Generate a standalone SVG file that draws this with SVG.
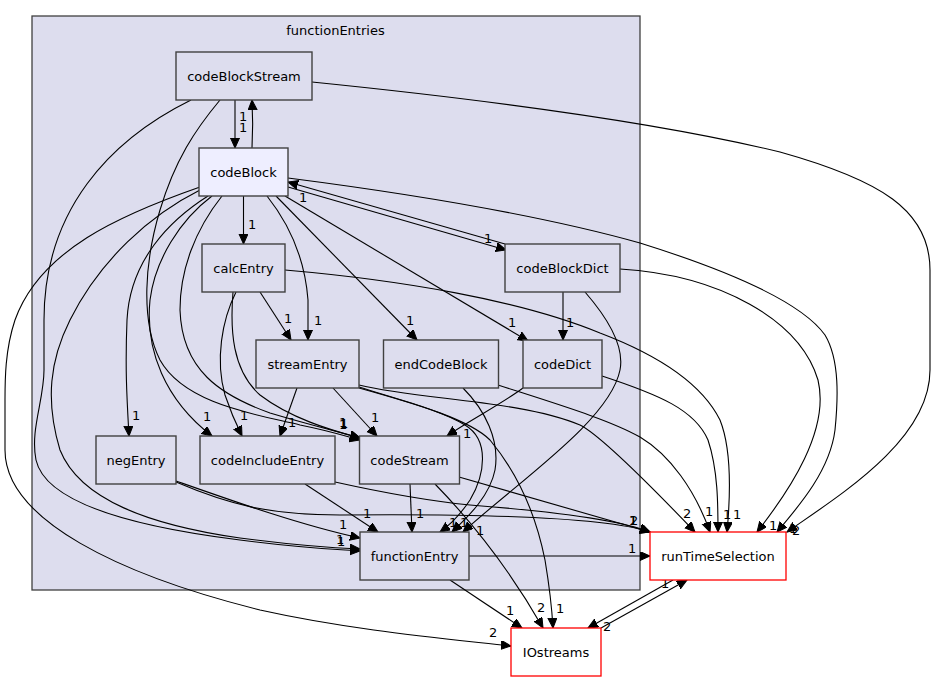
<svg xmlns="http://www.w3.org/2000/svg" width="936" height="681" viewBox="0 0 936 681">
<defs>
<style>
text{font-family:"DejaVu Sans","Liberation Sans",sans-serif;font-size:13px;fill:#000}
.n text{text-anchor:middle}
.in rect{fill:#ddddee;stroke:#404040;stroke-width:1.4}
.cur rect{fill:#eeeeff;stroke:#404040;stroke-width:1.4}
.ext rect{fill:#ffffff;stroke:#ff0000;stroke-width:1.3}
#edges path{fill:none;stroke:#000;stroke-width:1.1;marker-end:url(#ah)}
#edges text{font-size:13px}
</style>
<marker id="ah" markerWidth="12" markerHeight="10" refX="10" refY="4.5" orient="auto" markerUnits="userSpaceOnUse"><path d="M0,0 L10,4.5 L0,9 z" fill="#000" stroke="#000" stroke-width="1"/></marker>
</defs>
<rect width="936" height="681" fill="#ffffff"/>
<g id="cluster">
<rect x="32" y="16" width="608" height="574" fill="#ddddee" stroke="#404040" stroke-width="1.3"/>
<text x="335.5" y="35" text-anchor="middle">functionEntries</text>
</g>
<g id="edges">
<path d="M235,100 L235,148"/><text x="239" y="132">1</text>
<path d="M252,148 C253,130 253,118 252,100"/><text x="239" y="121">1</text>
<path d="M312,82 C450,96 640,118 780,152 C880,180 930,210 930,270 L930,370 C930,440 840,495 787,532"/><text x="792" y="535">2</text>
<path d="M191,100 C110,140 44,210 44,320 L44,370 C44,400 30,430 36,460 C45,500 120,525 240,540 C300,548 330,549 360,551"/>
<path d="M220,100 C195,130 175,160 160,210 C145,260 140,320 160,360 C185,405 260,415 300,425 C330,431 345,436 360,440"/>
<path d="M200,187 C120,215 40,250 15,320 C5,350 5,380 5,400 L5,450 C5,520 120,575 260,610 C350,630 440,638 511,646"/><text x="489" y="637">2</text>
<path d="M200,190 C150,215 100,260 70,320 C50,360 45,400 60,450 C80,500 150,525 240,538 C300,546 335,548 360,549"/><text x="336" y="544">1</text><text x="337" y="546">1</text>
<path d="M208,196 C170,220 130,260 127,320 C125,370 127,400 129,436"/><text x="132" y="420">1</text>
<path d="M212,196 C180,220 155,260 150,300 C145,350 165,400 212,436"/><text x="203" y="421">1</text>
<path d="M222,196 C195,230 180,270 180,310 C182,370 220,395 270,413 C310,425 340,432 360,438"/>
<path d="M243.5,196 L243.5,244"/><text x="248" y="229">1</text>
<path d="M267,196 C290,225 305,260 308,300 L308,340"/><text x="314" y="325">1</text>
<path d="M276,196 L417,340"/><text x="406" y="325">1</text>
<path d="M285,196 L528,341"/><text x="508" y="327">1</text>
<path d="M288,187 L506,250"/><text x="484" y="243">1</text>
<path d="M505,244 L288,182"/><text x="299" y="202">1</text>
<path d="M288,178 C420,195 540,215 640,243 C720,268 800,300 825,335 C840,360 838,400 835,430 C830,470 800,505 777,532"/><text x="789" y="533">1</text>
<path d="M260,292 L291,340"/><text x="284" y="323">1</text>
<path d="M236,292 C222,320 215,360 225,395 C230,410 235,422 242,436"/><text x="240" y="420">1</text>
<path d="M233,292 C230,330 232,370 260,395 C290,418 330,430 360,438"/><text x="339" y="427">1</text><text x="340" y="428">1</text><text x="339" y="429">1</text>
<path d="M285,270 C400,280 520,300 600,333 C650,352 700,380 720,420 C732,450 730,500 727,532"/><text x="733" y="519">1</text>
<path d="M297,388 L280,436"/><text x="288" y="427">1</text>
<path d="M333,388 L377,436"/><text x="371" y="422">1</text>
<path d="M359,385 C420,400 520,400 580,425 C600,435 650,485 695,532"/><text x="683" y="518">2</text>
<path d="M359,387 C400,400 440,410 465,425 C490,440 485,475 470,500 C460,515 450,525 440,532"/><text x="449" y="527">1</text>
<path d="M359,388 C420,405 470,420 490,440 C515,470 535,510 545,560 C550,590 552,610 553,628"/><text x="556" y="613">1</text>
<path d="M463,388 C485,410 500,440 495,470 C490,495 470,515 452,532"/><text x="460" y="527">1</text>
<path d="M498,385 C560,405 610,420 640,437 C670,455 695,490 710,532"/><text x="705" y="516">1</text>
<path d="M523,388 C500,405 470,420 447,436"/><text x="463" y="438">1</text>
<path d="M602,376 C660,395 695,410 708,440 C718,470 718,505 718,532"/><text x="723" y="519">1</text>
<path d="M563,292 L563,340"/><text x="566" y="327">1</text>
<path d="M620,269 C720,275 800,320 818,380 C830,430 790,490 757,532"/><text x="769" y="530">1</text>
<path d="M585,292 C605,315 625,345 620,370 C610,420 520,480 463,532"/><text x="476" y="535">1</text>
<path d="M410,484 L412,532"/><text x="416" y="518">1</text>
<path d="M435,484 C470,520 510,570 543,628"/><text x="537" y="612">2</text>
<path d="M459,477 L650,532"/>
<path d="M335,482 C380,492 420,500 470,505 C560,512 620,520 650,532"/>
<path d="M176,481 C230,500 300,525 360,538"/><text x="339" y="529">1</text>
<path d="M176,482 C230,505 270,515 340,515 C450,514 600,515 650,532"/>
<text x="629" y="525">1</text><text x="630" y="525">2</text><text x="629" y="525">1</text>
<path d="M469,556 L650,556"/><text x="628" y="553">1</text>
<path d="M450,580 L522,628"/><text x="506" y="615">1</text>
<path d="M673,580 L588,628"/><text x="603" y="631">2</text>
<path d="M601,628 L687,580"/><text x="661" y="588">1</text>
<path d="M305,484 L378,532"/><text x="363" y="518">1</text>
</g>
<g id="codeBlockStream" class="n in"><rect x="176" y="52" width="136" height="48"/><text x="244" y="80.5">codeBlockStream</text></g>
<g id="codeBlock" class="n cur"><rect x="199" y="148" width="89" height="48"/><text x="243.5" y="176.5">codeBlock</text></g>
<g id="calcEntry" class="n in"><rect x="202" y="244" width="83" height="48"/><text x="243.5" y="272.5">calcEntry</text></g>
<g id="codeBlockDict" class="n in"><rect x="505" y="244" width="115" height="48"/><text x="562.5" y="272.5">codeBlockDict</text></g>
<g id="streamEntry" class="n in"><rect x="256" y="340" width="103" height="48"/><text x="307.5" y="368.5">streamEntry</text></g>
<g id="endCodeBlock" class="n in"><rect x="383.5" y="340" width="115" height="48"/><text x="441" y="368.5">endCodeBlock</text></g>
<g id="codeDict" class="n in"><rect x="523" y="340" width="79" height="48"/><text x="562.5" y="368.5">codeDict</text></g>
<g id="negEntry" class="n in"><rect x="96" y="436" width="80" height="48"/><text x="136" y="464.5">negEntry</text></g>
<g id="codeIncludeEntry" class="n in"><rect x="200" y="436" width="135" height="48"/><text x="267.5" y="464.5">codeIncludeEntry</text></g>
<g id="codeStream" class="n in"><rect x="359.5" y="436" width="100" height="48"/><text x="409.5" y="464.5">codeStream</text></g>
<g id="functionEntry" class="n in"><rect x="360" y="532" width="109" height="48"/><text x="414.5" y="560.5">functionEntry</text></g>
<g id="runTimeSelection" class="n ext"><rect x="650" y="532" width="136" height="48"/><text x="718" y="560.5">runTimeSelection</text></g>
<g id="IOstreams" class="n ext"><rect x="511" y="628" width="90" height="48"/><text x="556" y="656.5">IOstreams</text></g>
</svg>
